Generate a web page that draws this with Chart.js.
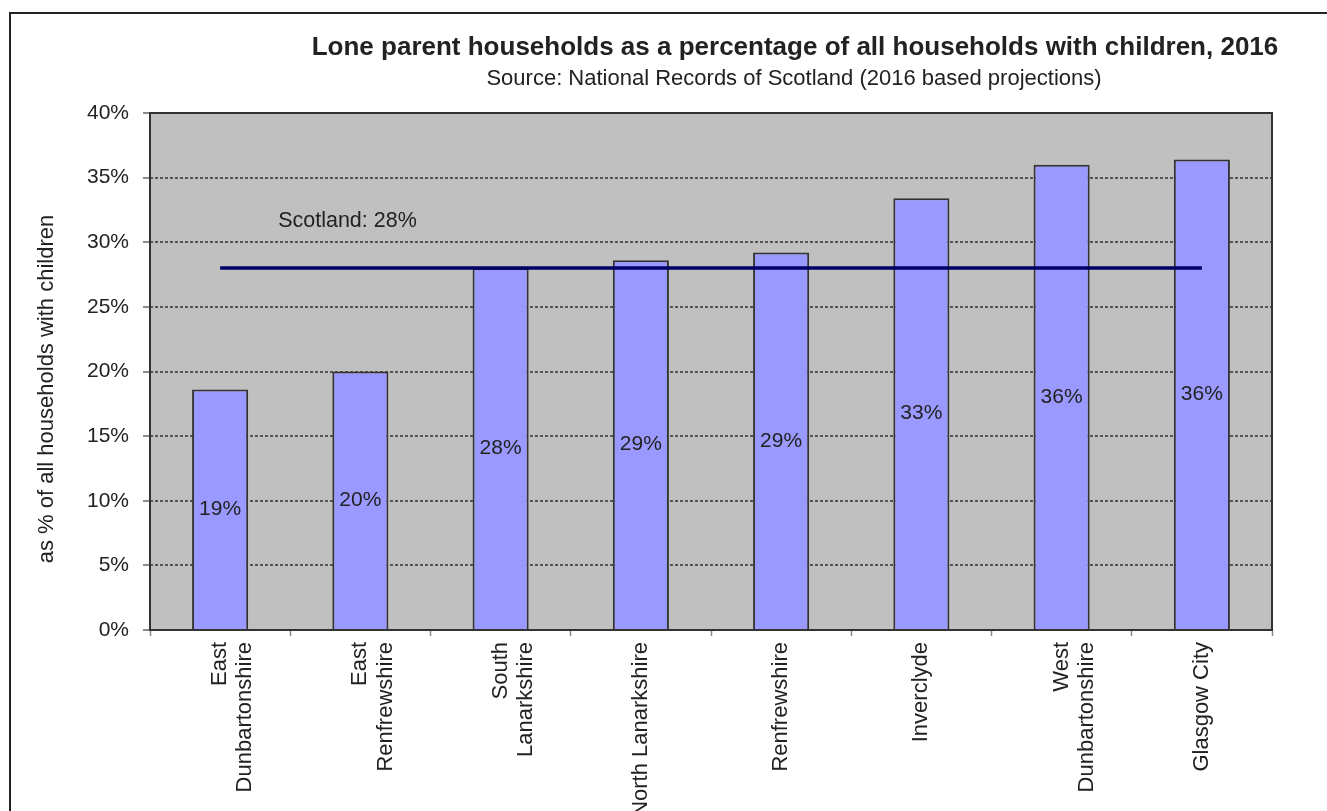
<!DOCTYPE html>
<html>
<head>
<meta charset="utf-8">
<script src="https://cdn.jsdelivr.net/npm/chart.js@4.4.0/dist/chart.umd.min.js"></script>
<style>
  html, body { margin: 0; padding: 0; background: #fff; overflow: hidden; }
  #wrap { position: relative; width: 1327px; height: 811px; }
  #frame { position: absolute; left: 9px; top: 12px; width: 1400px; height: 900px;
           border-top: 2px solid #222; border-left: 2px solid #222; pointer-events: none; }
</style>
</head>
<body>
<div id="wrap">
  <canvas id="myBarChart" width="1327" height="811"></canvas>
  <div id="frame"></div>
</div>
<script>
document.addEventListener("DOMContentLoaded", function () {

var areas = [
    ['East', 'Dunbartonshire'],
    ['East', 'Renfrewshire'],
    ['South', 'Lanarkshire'],
    'North Lanarkshire',
    'Renfrewshire',
    'Inverclyde',
    ['West', 'Dunbartonshire'],
    'Glasgow City'
];
var loneParentPct = [18.6, 20.0, 28.0, 28.6, 29.2, 33.4, 36.0, 36.4];
var scotlandPct = [28, 28, 28, 28, 28, 28, 28, 28];
var scotlandLabel = 'Scotland: 28%';
var yTicks = [0, 5, 10, 15, 20, 25, 30, 35, 40];

var chartTitle = 'Lone parent households as a percentage of all households with children, 2016';
var chartSubtitle = 'Source: National Records of Scotland (2016 based projections)';
var yTitle = 'as % of all households with children';

var FONT = 'Arial, "Liberation Sans", sans-serif';
var TEXT = '#222';

// grey plot background, dark frame, titles, bar labels
var decor = {
    id: 'decor',
    beforeDraw: function (chart) {
        var a = chart.chartArea, c = chart.ctx;
        c.save();
        c.fillStyle = '#c0c0c0';
        c.fillRect(a.left, a.top, a.right - a.left, a.bottom - a.top);
        c.restore();
    },
    afterDraw: function (chart) {
        var a = chart.chartArea, c = chart.ctx;
        var xs = chart.scales.x, ys = chart.scales.y;
        c.save();
        // frame
        c.strokeStyle = '#333';
        c.lineWidth = 2;
        c.strokeRect(a.left, a.top, a.right - a.left, a.bottom - a.top);

        // titles
        c.fillStyle = TEXT;
        c.textAlign = 'center';
        c.textBaseline = 'middle';
        c.font = 'bold 26px ' + FONT;
        c.fillText(chartTitle, 795, 48);
        c.font = '22px ' + FONT;
        c.fillText(chartSubtitle, 794, 79);

        // y axis title
        c.save();
        c.translate(47, 389);
        c.rotate(-Math.PI / 2);
        c.font = '22px ' + FONT;
        c.fillText(yTitle, 0, 0);
        c.restore();

        // value labels in the middle of each bar
        c.font = '21px ' + FONT;
        var meta = chart.getDatasetMeta(1);
        meta.data.forEach(function (bar, i) {
            var v = loneParentPct[i];
            var mid = (bar.y + bar.base) / 2;
            c.fillText(Math.round(v) + '%', bar.x, mid);
        });

        // Scotland label
        c.textAlign = 'left';
        c.font = '21.5px ' + FONT;
        c.fillText(scotlandLabel, xs.getPixelForValue(0) + 58, ys.getPixelForValue(31.6));
        c.restore();
    }
};

var ctx = document.getElementById('myBarChart').getContext('2d');
var myBarChart = new Chart(ctx, {
    type: 'bar',
    data: {
        labels: areas,
        datasets: [{
            type: 'line',
            label: 'Scotland',
            data: scotlandPct,
            borderColor: '#000066',
            borderWidth: 3.5,
            pointRadius: 0,
            fill: false,
            order: 0
        }, {
            label: 'Lone parent households',
            data: loneParentPct,
            backgroundColor: '#9999ff',
            borderColor: '#333',
            borderWidth: 2,
            barPercentage: 0.4,
            categoryPercentage: 1.0,
            order: 1
        }]
    },
    options: {
        responsive: false,
        animation: false,
        layout: { padding: { top: 113, right: 55, left: 0, bottom: 0 } },
        plugins: {
            legend: { display: false },
            tooltip: { enabled: false },
            title: { display: false }
        },
        scales: {
            x: {
                afterFit: function (scale) { scale.height = 181; },
                grid: {
                    offset: true,
                    drawOnChartArea: false,
                    tickLength: 6,
                    tickColor: '#888',
                    tickWidth: 1.5
                },
                border: { display: false },
                ticks: {
                    minRotation: 90,
                    maxRotation: 90,
                    autoSkip: false,
                    padding: 6,
                    color: TEXT,
                    font: { family: FONT, size: 22, lineHeight: 1.15 }
                }
            },
            y: {
                min: 0,
                max: 40,
                afterFit: function (scale) { scale.width = 150; },
                afterBuildTicks: function (scale) {
                    scale.ticks = yTicks.map(function (v) { return { value: v }; });
                },
                grid: {
                    color: function (c) {
                        var v = c.tick && c.tick.value;
                        return (v === 0 || v === 40) ? 'rgba(0,0,0,0)' : '#555';
                    },
                    lineWidth: 2,
                    tickLength: 7,
                    tickColor: '#666',
                    tickBorderDash: [],
                    tickWidth: 1.5
                },
                border: { display: false, dash: [3, 2] },
                ticks: {
                    padding: 14,
                    color: TEXT,
                    font: { family: FONT, size: 21 },
                    callback: function (v) { return v + '%'; }
                }
            }
        }
    },
    plugins: [decor]
});

});
</script>
</body>
</html>
